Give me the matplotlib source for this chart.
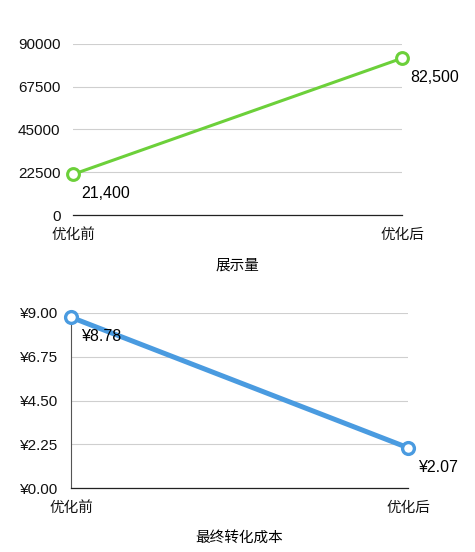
import matplotlib.pyplot as plt
from matplotlib.ticker import FuncFormatter

plt.rcParams['font.family'] = ['Liberation Sans', 'Noto Sans CJK SC', 'DejaVu Sans']

categories = ["优化前", "优化后"]
impressions = [21400, 82500]
impression_ticks = [0, 22500, 45000, 67500, 90000]
cost = [8.78, 2.07]
cost_ticks = [0, 2.25, 4.50, 6.75, 9.00]

green = "#6cd03a"
blue = "#4a9be0"
grid_c = "#cfcfcf"

fig = plt.figure(figsize=(4.75, 5.52), dpi=100)

# top chart: impressions
ax1 = fig.add_axes([0.1537, 0.6105, 0.6926, 0.3098])
x = list(range(len(categories)))
ax1.plot(x, impressions, color=green, lw=2.2, marker="o", ms=8.5,
         mfc="white", mec=green, mew=2.2, clip_on=False, zorder=3)
ax1.set_xlim(0, 1)
ax1.set_ylim(0, 90000)
ax1.set_yticks(impression_ticks)
ax1.set_yticklabels([str(t) for t in impression_ticks])
ax1.set_xticks(x, labels=categories)
ax1.grid(axis="y", color=grid_c, lw=0.8)
for s in ["top", "right", "left"]:
    ax1.spines[s].set_visible(False)
ax1.spines["bottom"].set_color("#222222")
ax1.spines["bottom"].set_linewidth(0.9)
ax1.tick_params(length=0, colors="#111111")
ax1.tick_params(axis="y", pad=9, labelsize=11)
ax1.tick_params(axis="x", pad=9, labelsize=10.5)
ax1.set_xlabel("展示量", fontsize=10.5, labelpad=12)
for xi, v in zip(x, impressions):
    ax1.annotate(f"{v:,}", (xi, v), xytext=(6, -14), textcoords="offset points",
                 ha="left", va="center", fontsize=11.5)

# bottom chart: cost per conversion
ax2 = fig.add_axes([0.1495, 0.1159, 0.7095, 0.3171])
ax2.plot(x, cost, color=blue, lw=3.6, marker="o", ms=8.5,
         mfc="white", mec=blue, mew=2.4, clip_on=False, zorder=3)
ax2.set_xlim(0, 1)
ax2.set_ylim(0, 9)
ax2.set_yticks(cost_ticks)
ax2.yaxis.set_major_formatter(FuncFormatter(lambda v, p: f"¥{v:.2f}"))
ax2.set_xticks(x, labels=categories)
ax2.grid(axis="y", color=grid_c, lw=0.8)
for s in ["top", "right"]:
    ax2.spines[s].set_visible(False)
ax2.spines["bottom"].set_color("#222222")
ax2.spines["left"].set_color("#555555")
ax2.spines["bottom"].set_linewidth(0.9)
ax2.spines["left"].set_linewidth(0.8)
ax2.tick_params(length=0, colors="#111111")
ax2.tick_params(axis="y", pad=9, labelsize=11)
ax2.tick_params(axis="x", pad=9, labelsize=10.5)
ax2.set_xlabel("最终转化成本", fontsize=10.5, labelpad=12)
for xi, v in zip(x, cost):
    ax2.annotate(f"¥{v:.2f}", (xi, v), xytext=(7, -14), textcoords="offset points",
                 ha="left", va="center", fontsize=11.5)

fig.savefig("out.png", dpi=100, facecolor="white")
